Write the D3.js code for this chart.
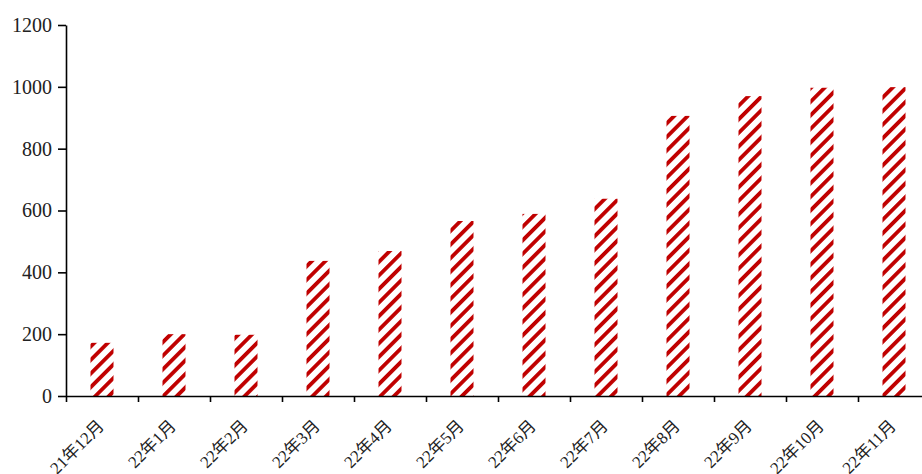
<!DOCTYPE html>
<html><head><meta charset="utf-8">
<script src="https://cdn.jsdelivr.net/npm/d3@7"></script>
<style>
html,body{margin:0;padding:0;background:#fff;}
svg{display:block;}
text{font-family:"Liberation Serif","Noto Sans CJK SC",serif;fill:#222;}
</style></head>
<body>
<svg id="chart" width="922" height="474"></svg>
<script>
const categories = ["21年12月","22年1月","22年2月","22年3月","22年4月","22年5月","22年6月","22年7月","22年8月","22年9月","22年10月","22年11月"];
const values = [172, 200, 198, 437, 469, 566, 589, 638, 906, 970, 997, 999];
const yTicks = [0, 200, 400, 600, 800, 1000, 1200];

(function(){
const svg = d3.select("#chart");
const mLeft = 66, mBottom = 396, mTop = 25;
const x = d3.scaleBand().domain(categories).range([mLeft, mLeft + 72 * categories.length]).padding(0);
const xl = d3.scaleLinear().domain([0, categories.length]).range([mLeft, mLeft + 72 * categories.length]);
const y = d3.scaleLinear().domain([0, 1200]).range([mBottom, mTop]);

const defs = svg.append("defs");
const P = 9.6;
const pat = defs.append("pattern").attr("id","stripes").attr("patternUnits","userSpaceOnUse")
  .attr("width", P).attr("height", P).attr("patternTransform","rotate(45)");
pat.append("rect").attr("width",P).attr("height",P).attr("fill","#fff");
pat.append("rect").attr("x",0).attr("y",0).attr("width",3.8).attr("height",P).attr("fill","#C00000");

const barW = 23;
svg.append("g").selectAll("rect").data(values).join("rect")
  .attr("x", (d,i) => x(categories[i]) + x.bandwidth()/2 - barW/2)
  .attr("y", d => y(d))
  .attr("width", barW)
  .attr("height", d => y(0) - y(d))
  .attr("fill", "url(#stripes)");

const ya = svg.append("g").attr("transform", `translate(${mLeft},0)`)
  .call(d3.axisLeft(y).tickValues(yTicks).tickSize(8).tickSizeOuter(0).tickPadding(6).tickFormat(d3.format("d")));
ya.select(".domain").attr("stroke","#000").attr("stroke-width",1.6);
ya.selectAll(".tick line").attr("stroke","#000").attr("stroke-width",1.6);
ya.selectAll(".tick text").style("font-size","20px").style("font-family",'"Liberation Serif",serif').attr("fill","#222");

const xa = svg.append("g").attr("transform", `translate(0,${mBottom})`)
  .call(d3.axisBottom(xl).tickValues(d3.range(categories.length)).tickSize(6).tickSizeOuter(0).tickFormat(""));
xa.select(".domain").attr("stroke","#000").attr("stroke-width",1.6);
xa.selectAll(".tick line").attr("stroke","#000").attr("stroke-width",1.6);

svg.append("g").selectAll("text").data(categories).join("text")
  .attr("transform", d => `translate(${x(d) + x.bandwidth()/2 + 3},${mBottom + 31}) rotate(-45)`)
  .attr("text-anchor","end")
  .style("font-size","17px")
  .text(d => d);
})();
</script>
</body></html>
